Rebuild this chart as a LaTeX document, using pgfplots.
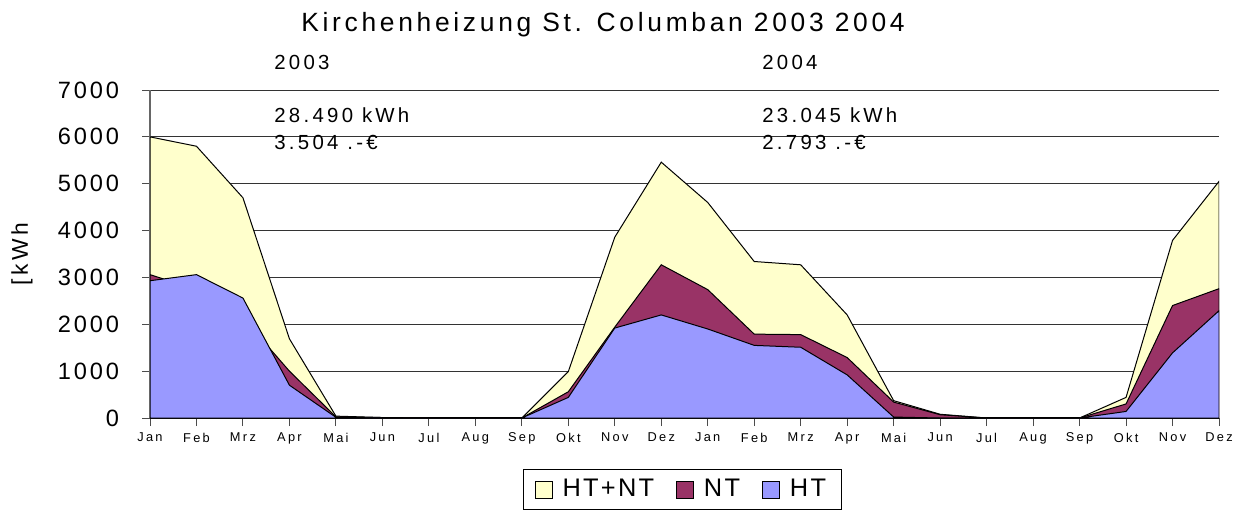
\documentclass[border=0pt]{standalone}
\usepackage{fontspec}
\setmainfont{Liberation Sans}
\newfontfamily\spacedA[LetterSpace=12]{Liberation Sans}
\newfontfamily\spacedB[LetterSpace=9]{Liberation Sans}
\newfontfamily\spacedC[LetterSpace=16]{Liberation Sans}
\newfontfamily\spacedT[LetterSpace=14]{Liberation Sans}
\newfontfamily\spacedX[LetterSpace=18]{Liberation Sans}
\usepackage{pgfplots}
\pgfplotsset{compat=1.18}
\definecolor{cTot}{HTML}{FFFFCC}
\definecolor{cNT}{HTML}{993366}
\definecolor{cHT}{HTML}{9999FF}
\begin{document}
\begin{tikzpicture}
\useasboundingbox (0,0) rectangle (623.5bp,-255bp);
\begin{axis}[
  at={(75bp,-209bp)}, anchor=south west,
  scale only axis, width=534.5bp, height=164bp,
  xmin=0, xmax=23, ymin=0, ymax=7000,
  xtick={0,...,23},
  xticklabels={Jan,Feb,Mrz,Apr,Mai,Jun,Jul,Aug,Sep,Okt,Nov,Dez,Jan,Feb,Mrz,Apr,Mai,Jun,Jul,Aug,Sep,Okt,Nov,Dez},
  ytick={0,1000,...,7000},
  yticklabel style={/pgf/number format/1000 sep={}, /pgf/number format/assume math mode=true, font=\spacedA\fontsize{11.8bp}{13bp}\selectfont, xshift=-8bp},
  xticklabel style={font=\spacedX\fontsize{6.4bp}{7bp}\selectfont},
  tick align=outside, major tick length=4bp,
  tick style={black!70, line width=0.5bp},
  axis x line*=bottom, axis y line*=left,
  x axis line style={black, line width=0.6bp},
  y axis line style={black!60, line width=0.6bp},
  ymajorgrids, grid style={black!80, line width=0.5bp},
  legend columns=-1,
  legend style={at={(0.498,-0.155)}, anchor=north, draw=black, line width=0.5bp,
    font=\spacedB\fontsize{12.7bp}{14bp}\selectfont, inner xsep=5.5bp, inner ysep=3bp,
    /tikz/every odd column/.append style={column sep=3bp},
    /tikz/every even column/.append style={column sep=9bp}},
  legend image code/.code={\draw[#1,draw=black,line width=0.4bp] (0bp,-4.2bp) rectangle (8.5bp,4.2bp);},
]
\addplot[fill=cTot, draw=black, line width=0.5bp] coordinates {
(0,6000)(1,5800)(2,4700)(3,1690)(4,40)(5,10)(6,0)(7,0)(8,0)(9,990)(10,3860)(11,5460)
(12,4600)(13,3340)(14,3270)(15,2200)(16,370)(17,80)(18,0)(19,0)(20,0)(21,440)(22,3790)(23,5050)} \closedcycle;
\addlegendentry{HT+NT}
\addplot[fill=cNT, draw=black, line width=0.5bp] coordinates {
(0,3060)(1,2740)(2,2140)(3,1000)(4,25)(5,10)(6,0)(7,0)(8,0)(9,560)(10,1940)(11,3270)
(12,2740)(13,1790)(14,1780)(15,1290)(16,340)(17,70)(18,0)(19,0)(20,0)(21,300)(22,2400)(23,2760)} \closedcycle;
\addlegendentry{NT}
\addplot[fill=cHT, draw=black, line width=0.5bp] coordinates {
(0,2930)(1,3060)(2,2560)(3,700)(4,15)(5,0)(6,0)(7,0)(8,0)(9,440)(10,1920)(11,2200)
(12,1900)(13,1550)(14,1510)(15,920)(16,20)(17,0)(18,0)(19,0)(20,0)(21,140)(22,1390)(23,2290)} \closedcycle;
\addlegendentry{HT}
\end{axis}
\begin{scope}[x=0.5bp, y=-0.5bp]
\node[anchor=base, inner sep=0pt, font=\spacedT\fontsize{13.2bp}{15bp}\selectfont] at (603,31) {Kirchenheizung St. Columban 2003 2004};
\begin{scope}[every node/.style={anchor=base west, inner sep=0pt, font=\spacedC\fontsize{10.2bp}{12bp}\selectfont}]
\node at (274,69) {2003};
\node at (274,123) {28.490 kWh};
\node at (274,150) {3.504 .-€};
\node at (762,69) {2004};
\node at (762,123) {23.045 kWh};
\node at (762,150) {2.793 .-€};
\end{scope}
\node[rotate=90, anchor=center, inner sep=0pt, font=\spacedC\fontsize{11.4bp}{13bp}\selectfont] at (22,254) {[kWh};
\end{scope}
\end{tikzpicture}
\end{document}
